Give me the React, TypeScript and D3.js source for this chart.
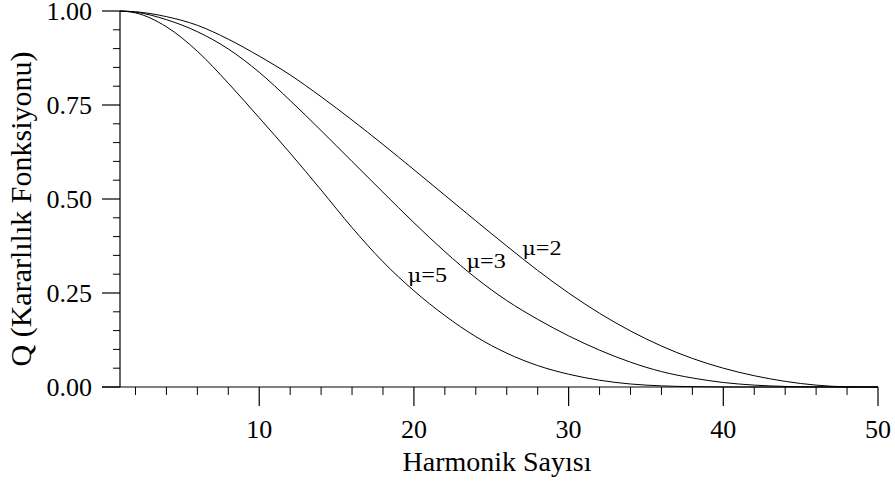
import React from "react";
import * as d3 from "d3";

// Harmonic numbers at which the stability function was sampled
const harmonics = [1, 2, 4, 6, 8, 10, 12, 14, 16, 18, 20, 22, 24, 26, 28, 30, 32, 34, 36, 38, 40, 42, 44, 46, 48, 50];

// Q values for each μ
const qMu2 = [1.0, 0.998, 0.985, 0.962, 0.925, 0.88, 0.83, 0.772, 0.71, 0.645, 0.578, 0.51, 0.442, 0.375, 0.31, 0.25, 0.196, 0.149, 0.109, 0.076, 0.05, 0.03, 0.015, 0.005, 0.0005, 0.0];
const qMu3 = [1.0, 0.997, 0.977, 0.945, 0.899, 0.837, 0.762, 0.682, 0.6, 0.518, 0.437, 0.36, 0.29, 0.23, 0.18, 0.136, 0.098, 0.066, 0.041, 0.024, 0.012, 0.005, 0.0015, 0.0003, 0.0, 0.0];
const qMu5 = [1.0, 0.995, 0.958, 0.893, 0.808, 0.716, 0.622, 0.524, 0.424, 0.333, 0.256, 0.19, 0.134, 0.09, 0.057, 0.034, 0.018, 0.008, 0.003, 0.001, 0.0002, 0.0, 0.0, 0.0, 0.0, 0.0];

const seriesValues = [qMu2, qMu3, qMu5];
const seriesSymbol = "μ";
const seriesLabels = ["=2", "=3", "=5"];
// where each curve label sits, in data units (harmonic, Q)
const labelHarmonic = [27, 23.4, 19.6];
const labelQ = [0.352, 0.316, 0.28];

const xMajorTicks = [10, 20, 30, 40, 50];
const yMajorTicks = [0, 0.25, 0.5, 0.75, 1.0];
const yTickLabels = ["0.00", "0.25", "0.50", "0.75", "1.00"];

const xTitle = "Harmonik Sayısı";
const yTitle = "Q (Kararlılık Fonksiyonu)";

const W = 895;
const H = 484;
const FONT = "'Liberation Serif', 'Times New Roman', Times, serif";
const GREEK_FONT = "'DejaVu Serif', 'Liberation Serif', serif";

export default function App() {
  const x = d3.scaleLinear().domain([1, 50]).range([120, 878]);
  const y = d3.scaleLinear().domain([0, 1]).range([387, 11]);

  const line = d3
    .line<[number, number]>()
    .x((d) => x(d[0]))
    .y((d) => y(d[1]))
    .curve(d3.curveMonotoneX);

  const xMinor = d3.range(2, 50, 2).filter((v) => v % 10 !== 0);
  const yMinor = d3.range(0.05, 1.0, 0.05).filter((v) => Math.abs(v * 4 - Math.round(v * 4)) > 1e-6);

  return (
    <svg
      width={W}
      height={H}
      viewBox={`0 0 ${W} ${H}`}
      style={{ position: "absolute", left: 0, top: 0, background: "#fff", display: "block" }}
      fontFamily={FONT}
    >
      <g stroke="#000" fill="none">
        {/* axes */}
        <line x1={x(1)} x2={x(1)} y1={y(1)} y2={y(0)} strokeWidth={1.2} />
        <line x1={102} x2={x(50)} y1={y(0)} y2={y(0)} strokeWidth={1.2} />
        {/* y ticks */}
        {yMajorTicks.map((t) => (
          <line key={`ym${t}`} x1={102} x2={x(1)} y1={y(t)} y2={y(t)} strokeWidth={1.2} />
        ))}
        {yMinor.map((t) => (
          <line key={`yn${t}`} x1={x(1) - 7} x2={x(1)} y1={y(t)} y2={y(t)} strokeWidth={1} />
        ))}
        {/* x ticks */}
        {xMajorTicks.map((t) => (
          <line key={`xm${t}`} x1={x(t)} x2={x(t)} y1={y(0)} y2={y(0) + 19} strokeWidth={1.2} />
        ))}
        {xMinor.map((t) => (
          <line key={`xn${t}`} x1={x(t)} x2={x(t)} y1={y(0)} y2={y(0) + 8} strokeWidth={1} />
        ))}
        {/* curves */}
        {seriesValues.map((vals, i) => (
          <path
            key={`c${i}`}
            d={line(harmonics.map((h, j) => [h, vals[j]] as [number, number])) || ""}
            strokeWidth={1}
          />
        ))}
      </g>

      {/* tick labels */}
      <g fill="#000" fontSize={26}>
        {xMajorTicks.map((t) => (
          <text key={`xl${t}`} x={x(t)} y={438} textAnchor="middle">
            {t}
          </text>
        ))}
        {yMajorTicks.map((t, i) => (
          <text key={`yl${t}`} x={92} y={y(t) + 9} textAnchor="end">
            {yTickLabels[i]}
          </text>
        ))}
      </g>

      {/* curve labels */}
      <g fill="#000" fontSize={22} fontFamily={FONT}>
        {seriesLabels.map((s, i) => (
          <text
            key={`sl${i}`}
            transform={`translate(${x(labelHarmonic[i])},${y(labelQ[i])}) scale(1.1,1)`}
          >
            <tspan fontFamily={GREEK_FONT} fontSize={19}>
              {seriesSymbol}
            </tspan>
            <tspan fontFamily={FONT}>{s}</tspan>
          </text>
        ))}
      </g>

      {/* axis titles */}
      <text x={497} y={471} textAnchor="middle" fontSize={28} fill="#000">
        {xTitle}
      </text>
      <text transform={`translate(31,209) rotate(-90)`} textAnchor="middle" fontSize={30} fill="#000">
        {yTitle}
      </text>
    </svg>
  );
}
